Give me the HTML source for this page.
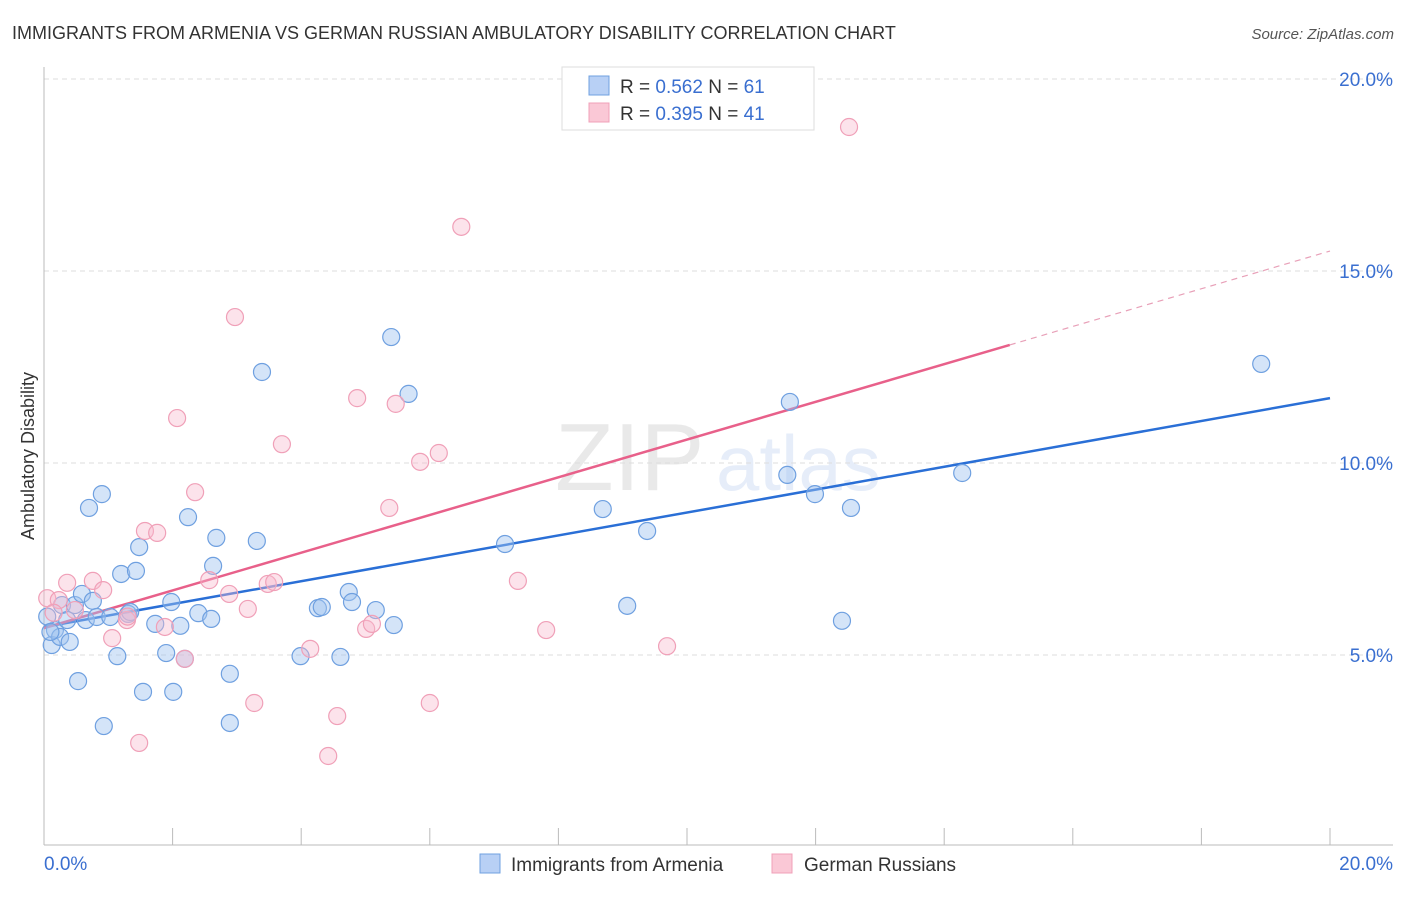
<!DOCTYPE html>
<html><head><meta charset="utf-8"><style>
body{margin:0;background:#fff;font-family:"Liberation Sans",sans-serif}
svg text{font-family:"Liberation Sans",sans-serif}
</style></head><body>
<svg id="chart" width="1406" height="892" xmlns="http://www.w3.org/2000/svg">
<text x="12" y="39" font-size="18" fill="#333">IMMIGRANTS FROM ARMENIA VS GERMAN RUSSIAN AMBULATORY DISABILITY CORRELATION CHART</text>
<text x="1394" y="39" font-size="15" fill="#555" font-style="italic" text-anchor="end">Source: ZipAtlas.com</text>
<text transform="translate(34,456) rotate(-90)" font-size="18" fill="#333" text-anchor="middle">Ambulatory Disability</text>
<g opacity="0.12">
<text x="555" y="490" font-size="96" font-family="Liberation Serif,serif" fill="#555">ZIP</text>
<text x="716" y="490" font-size="78" fill="#3a6fd0">atlas</text>
</g>
<g id="grid"></g><g id="axes"></g><g id="lines"></g><g id="pts"></g>
<g>
<rect x="562" y="67" width="252" height="63" fill="#fff" stroke="#ddd"/>
<rect x="589" y="76" width="20" height="19" fill="#b8d0f5" stroke="#6fa0e0"/>
<rect x="589" y="103" width="20" height="19" fill="#fac8d6" stroke="#f0a0b8"/>
<text x="620" y="93" font-size="19" fill="#333">R = <tspan fill="#3a6fd0">0.562</tspan>   N = <tspan fill="#3a6fd0">61</tspan></text>
<text x="620" y="120" font-size="19" fill="#333">R = <tspan fill="#3a6fd0">0.395</tspan>   N = <tspan fill="#3a6fd0">41</tspan></text>
</g>
<g>
<rect x="480" y="854" width="20" height="19" fill="#b8d0f5" stroke="#6fa0e0"/>
<text x="511" y="871" font-size="19" fill="#333">Immigrants from Armenia</text>
<rect x="772" y="854" width="20" height="19" fill="#fac8d6" stroke="#f0a0b8"/>
<text x="804" y="871" font-size="19" fill="#333">German Russians</text>
</g>
</svg>
<script>
const blueX=[0.12,0.17,0.25,0.28,0.36,0.40,0.48,0.53,0.59,0.65,0.70,0.76,0.82,0.90,0.93,1.03,1.14,1.20,1.31,1.34,1.43,1.48,1.54,1.73,1.90,1.98,2.01,2.12,2.24,2.40,2.60,2.63,2.68,2.89,2.89,3.31,3.39,3.99,4.26,4.32,4.61,4.74,4.79,5.16,5.40,5.44,5.67,7.17,8.69,9.07,9.38,11.56,11.60,11.99,12.41,12.55,14.28,18.93,2.19,0.05,0.10];
const blueY=[5.26,5.65,5.47,6.30,5.91,5.34,6.30,4.32,6.59,5.91,8.83,6.41,5.99,9.19,3.15,5.99,4.97,7.11,6.07,6.12,7.19,7.81,4.04,5.81,5.05,6.38,4.04,5.76,8.59,6.09,5.94,7.32,8.05,4.51,3.23,7.97,12.37,4.97,6.22,6.25,4.95,6.64,6.38,6.17,13.28,5.78,11.80,7.89,8.80,6.28,8.23,9.69,11.59,9.19,5.89,8.83,9.74,12.58,4.90,6.0,5.6];
const pinkX=[0.05,0.23,0.36,0.48,0.76,0.92,1.06,1.29,1.48,1.57,1.76,1.88,2.07,2.19,2.35,2.57,2.88,2.97,3.17,3.27,3.48,3.58,3.70,4.14,4.42,4.56,4.87,5.01,5.10,5.37,5.47,5.85,6.00,6.14,6.49,7.37,7.81,9.69,12.52,0.15,1.30];
const pinkY=[6.48,6.43,6.88,6.17,6.93,6.69,5.44,5.91,2.71,8.23,8.18,5.73,11.17,4.90,9.24,6.95,6.59,13.80,6.20,3.75,6.85,6.90,10.49,5.16,2.37,3.41,11.69,5.68,5.81,8.83,11.54,10.03,3.75,10.26,16.15,6.93,5.65,5.23,18.75,6.1,6.0];
const yTicks=[5,10,15,20];
const yTickLabels=["5.0%","10.0%","15.0%","20.0%"];
const xTicks=[0,2,4,6,8,10,12,14,16,18,20];
const blueFit=[5.73,11.69]; // y at x=0 and x=20
const pinkFit=[5.70,15.52];
const pinkSolidEnd=15.02;
const NS='http://www.w3.org/2000/svg';
const sx=v=>44+v*64.3, sy=v=>847-v*38.4;
function mk(t,a,p){const e=document.createElementNS(NS,t);for(const k in a)e.setAttribute(k,a[k]);document.getElementById(p).appendChild(e);return e;}
yTicks.forEach((t,i)=>{
 const g=mk('line',{x1:44,x2:1393,y1:sy(t),y2:sy(t),stroke:'#ddd','stroke-dasharray':'5,4'},'grid');
 
 
 const l=mk('text',{x:1393,y:sy(t)+7,'font-size':19,fill:'#3a6fd0','text-anchor':'end'},'grid');
 
 
 l.textContent=yTickLabels[i];
});
const ax=mk('line',{x1:44,x2:1393,y1:845,y2:845,stroke:'#bbb'},'axes');


const ay=mk('line',{x1:44,x2:44,y1:67,y2:845,stroke:'#bbb'},'axes');


xTicks.slice(1).forEach(t=>{
 const k=mk('line',{x1:sx(t),x2:sx(t),y1:828,y2:845,stroke:'#bbb'},'axes');
 
 
});
const x0=mk('text',{x:44,y:870,'font-size':19,fill:'#3a6fd0'},'axes');


x0.textContent='0.0%';
const x1=mk('text',{x:1393,y:870,'font-size':19,fill:'#3a6fd0','text-anchor':'end'},'axes');


x1.textContent='20.0%';
function dots(X,Y,fill,stroke,name){
 X.forEach((x,i)=>{
  const c=mk('circle',{cx:sx(x),cy:sy(Y[i]),r:8.5,fill:fill,stroke:stroke,'stroke-width':1.2},'pts');
  
  
 });
}
dots(blueX,blueY,'rgba(160,195,240,0.45)','#6fa0e0','armenia-point');
dots(pinkX,pinkY,'rgba(248,185,205,0.4)','#f0a0b8','german-russian-point');
const bl=mk('line',{x1:sx(0),y1:sy(blueFit[0]),x2:sx(20),y2:sy(blueFit[1]),stroke:'#2a6fd6','stroke-width':2.5},'lines');


const pm=v=>pinkFit[0]+(pinkFit[1]-pinkFit[0])*v/20;
const pl=mk('line',{x1:sx(0),y1:sy(pinkFit[0]),x2:sx(pinkSolidEnd),y2:sy(pm(pinkSolidEnd)),stroke:'#e8608a','stroke-width':2.5},'lines');


const pd=mk('line',{x1:sx(pinkSolidEnd),y1:sy(pm(pinkSolidEnd)),x2:sx(20),y2:sy(pinkFit[1]),stroke:'#e8a0b8','stroke-width':1.2,'stroke-dasharray':'6,5'},'lines');


</script>
</body></html>
